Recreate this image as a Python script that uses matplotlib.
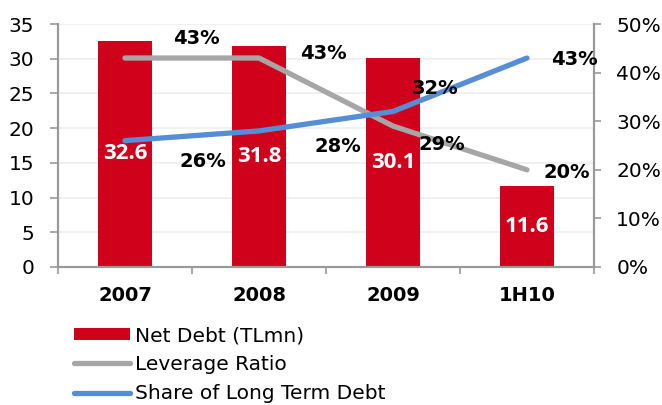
import numpy as np
import matplotlib.pyplot as plt
from matplotlib.patches import Patch
from matplotlib.lines import Line2D
from matplotlib.ticker import FuncFormatter, MultipleLocator

# net debt and ratios by period
periods = ["2007", "2008", "2009", "1H10"]
net_debt = [32.6, 31.8, 30.1, 11.6]
leverage = [43, 43, 29, 20]
long_term_share = [26, 28, 32, 43]

# label offsets in pixels (dx, dy) from each line point
lev_offsets = [(71, 20), (64, 5), (49, -18), (40, -3)]
lts_offsets = [(78, -21), (79, -16), (42, 23), (47, -1)]

RED = "#D0021B"
GREY = "#A6A6A6"
BLUE = "#558ED5"
AXIS = "#999999"

plt.rcParams["font.family"] = "DejaVu Sans"

fig = plt.figure(figsize=(6.62, 4.05), dpi=100)
ax = fig.add_axes([58 / 662, 1 - 267 / 405, (594 - 58) / 662, (267 - 24) / 405])
ax2 = ax.twinx()

x = np.arange(len(periods))
bars = ax.bar(x, net_debt, width=0.4, color=RED, zorder=2)
ax.bar_label(bars, labels=[f"{v:.1f}" for v in net_debt], label_type="center",
             color="white", fontsize=16, fontweight="bold", family="Open Sans")

ax.set_xlim(-0.5, 3.5)
ax.set_ylim(0, 35)
ax.yaxis.set_major_locator(MultipleLocator(5))
ax.grid(axis="y", color="#EDEDED", linewidth=1.2, zorder=0)
ax.set_axisbelow(True)

ax.set_xticks(x)
ax.set_xticklabels(periods, fontsize=14, fontweight="bold")
ax.set_xticks(np.arange(-0.5, 4, 1), minor=True)
ax.tick_params(axis="x", which="major", length=0, pad=14)
ax.tick_params(axis="x", which="minor", length=5, width=1.2, color=AXIS, direction="out")
ax.tick_params(axis="y", length=6, width=1.2, color=AXIS, labelsize=14.5, pad=11)

ax.spines["top"].set_visible(False)
ax2.spines["top"].set_visible(False)
for a in (ax, ax2):
    for side in ["left", "right", "bottom"]:
        a.spines[side].set_color(AXIS)
        a.spines[side].set_linewidth(1.5)

ax2.set_ylim(0, 50)
ax2.yaxis.set_major_locator(MultipleLocator(10))
ax2.yaxis.set_major_formatter(FuncFormatter(lambda v, p: f"{v:.0f}%"))
ax2.tick_params(axis="y", length=5, width=1.2, color=AXIS, labelsize=14.5, pad=11)

ax2.plot(x, leverage, color=GREY, linewidth=3.8, solid_capstyle="round", zorder=3)
ax2.plot(x, long_term_share, color=BLUE, linewidth=3.8, solid_capstyle="round", zorder=4)

for xi, v, (dx, dy) in zip(x, leverage, lev_offsets):
    ax2.annotate(f"{v}%", (xi, v), xytext=(dx, dy), textcoords="offset pixels",
                 ha="center", va="center", fontsize=14, fontweight="bold", zorder=5)
for xi, v, (dx, dy) in zip(x, long_term_share, lts_offsets):
    ax2.annotate(f"{v}%", (xi, v), xytext=(dx, dy), textcoords="offset pixels",
                 ha="center", va="center", fontsize=14, fontweight="bold", zorder=5)

handles = [
    Patch(facecolor=RED, edgecolor="none"),
    Line2D([], [], color=GREY, linewidth=3.8, solid_capstyle="round"),
    Line2D([], [], color=BLUE, linewidth=3.8, solid_capstyle="round"),
]
labels = ["Net Debt (TLmn)", "Leverage Ratio", "Share of Long Term Debt"]
fig.legend(handles, labels, loc="upper left", bbox_to_anchor=(74 / 662, 1 - 326 / 405),
           frameon=False, fontsize=14.5, handlelength=2.8, handleheight=0.55,
           handletextpad=0.25, labelspacing=0.5, borderpad=0, borderaxespad=0)

fig.savefig("out.png", dpi=100)
